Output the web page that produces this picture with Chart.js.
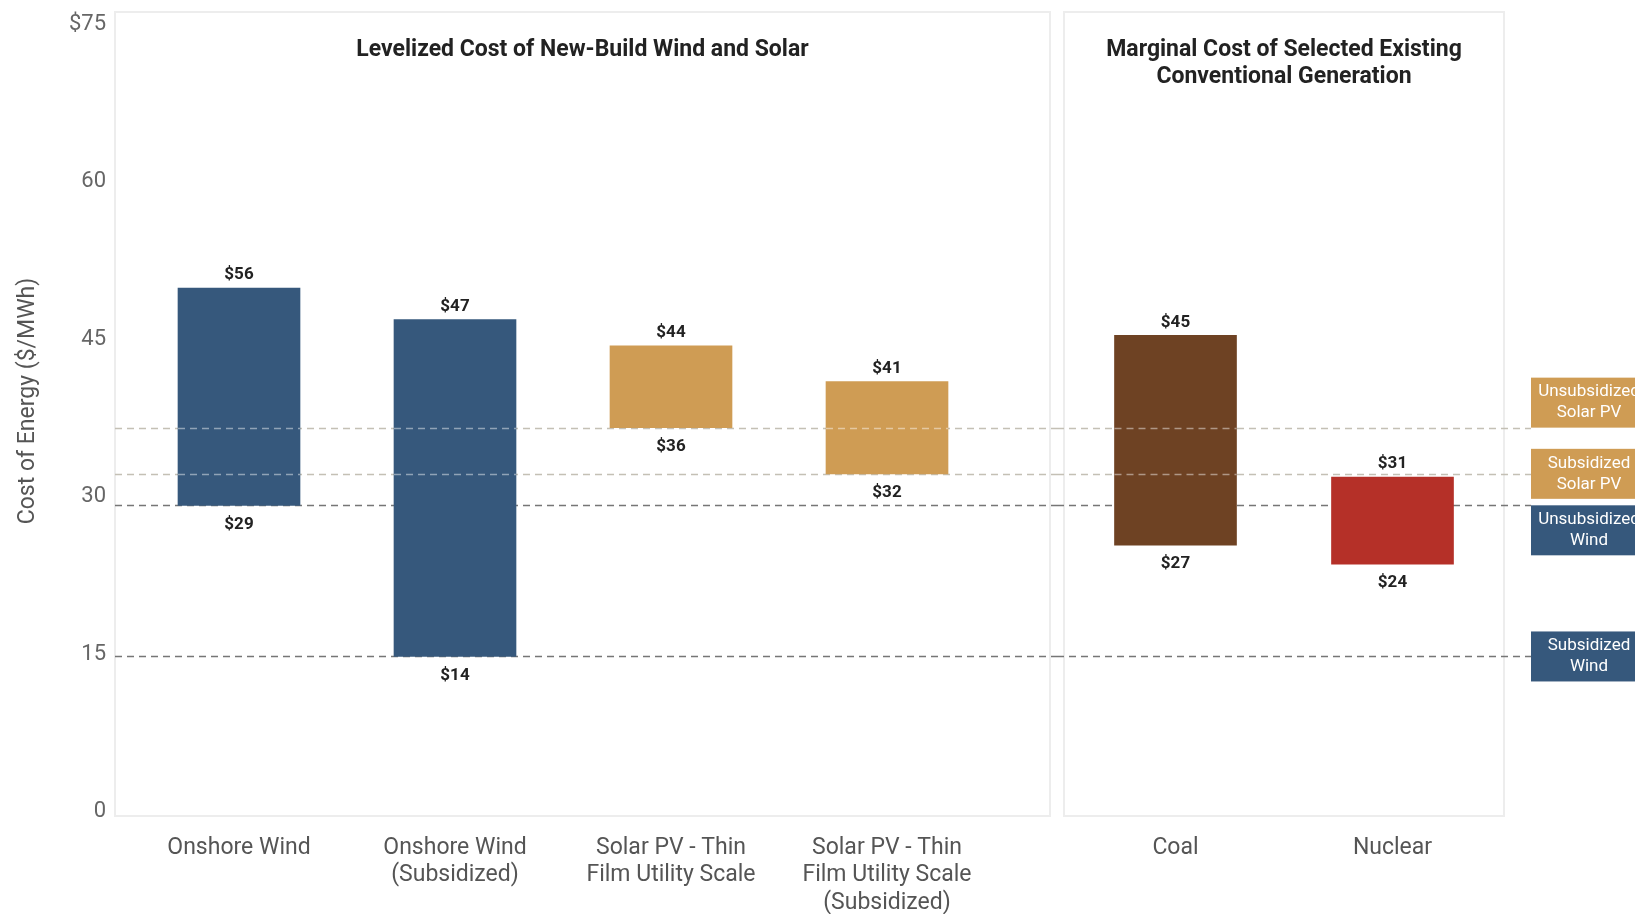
<!DOCTYPE html>
<html>
<head>
<meta charset="utf-8">
<title>Cost of Energy</title>
<script src="https://cdn.jsdelivr.net/npm/chart.js@4.4.1/dist/chart.umd.min.js"></script>
<style>
  body { margin: 0; background: #fff; }
  #wrap { position: relative; width: 1635px; height: 914px; overflow: hidden; }
  #leftChart { position: absolute; left: 0; top: 0; }
  #rightChart { position: absolute; left: 1057px; top: 0; }
</style>
</head>
<body>
<div id="wrap">
  <canvas id="leftChart" width="1057" height="914"></canvas>
  <canvas id="rightChart" width="578" height="914"></canvas>
</div>
<script>
// new-build wind and solar (left panel)
const newBuildCategories = [
  ['Onshore Wind'],
  ['Onshore Wind', '(Subsidized)'],
  ['Solar PV - Thin', 'Film Utility Scale'],
  ['Solar PV - Thin', 'Film Utility Scale', '(Subsidized)']
];
const newBuildLow = [28.9, 14.5, 36.3, 31.9];
const newBuildHigh = [49.6, 46.6, 44.1, 40.7];
const newBuildLowText = ['$29', '$14', '$36', '$32'];
const newBuildHighText = ['$56', '$47', '$44', '$41'];

// existing conventional generation (right panel)
const existingCategories = ['Coal', 'Nuclear'];
const existingLow = [25.1, 23.3];
const existingHigh = [45.1, 31.6];
const existingLowText = ['$27', '$24'];
const existingHighText = ['$45', '$31'];

// reference lines = bottom of the new-build ranges
const refLabels = [['Unsubsidized', 'Solar PV'], ['Subsidized', 'Solar PV'], ['Unsubsidized', 'Wind'], ['Subsidized', 'Wind']];
const refSource = [2, 3, 0, 1];
const refKinds = ['solar', 'solar', 'wind', 'wind'];
const refValues = refSource.map(i => newBuildLow[i]);

const yTicks = [0, 15, 30, 45, 60, 75];
const yTickLabels = ['0', '15', '30', '45', '60', '$75'];
const yTitle = 'Cost of Energy ($/MWh)';
const yMin = -0.7, yMax = 75.9;

const WIND = '#36587c', SOLAR = '#cf9c54', COAL = '#6e4223', NUCLEAR = '#b53028';

Chart.defaults.font.family = 'Roboto, "Open Sans", sans-serif';
Chart.defaults.color = '#555';

const panelPlugin = {
  id: 'panel',
  beforeDatasetsDraw(chart, args, o) {
    const {ctx, chartArea: a} = chart;
    const y = chart.scales.y;
    ctx.save();
    // panel frame
    ctx.strokeStyle = '#ededed';
    ctx.lineWidth = 2;
    const fl = a.left - o.padL, fr = a.right + o.padR;
    ctx.strokeRect(fl, a.top, fr - fl, a.bottom - a.top);
    // panel title
    ctx.fillStyle = '#222';
    ctx.font = 'bold 23px Roboto, sans-serif';
    ctx.textAlign = 'center';
    ctx.textBaseline = 'middle';
    o.title.forEach((t, i) => ctx.fillText(t, (fl + fr) / 2, 50 + i * 27));
    // y axis title
    if (o.yTitle) {
      ctx.save();
      ctx.translate(28, 401);
      ctx.rotate(-Math.PI / 2);
      ctx.fillStyle = '#555';
      ctx.font = '23px Roboto, sans-serif';
      ctx.fillText(o.yTitle, 0, 0);
      ctx.restore();
    }
    // reference lines under the bars
    ctx.setLineDash([7, 5]);
    ctx.lineWidth = 1.5;
    refValues.forEach((v, i) => {
      const py = Math.round(y.getPixelForValue(v)) + 0.5;
      ctx.strokeStyle = refKinds[i] === 'wind' ? '#767676' : '#c4c0b5';
      ctx.beginPath();
      ctx.moveTo(o.lineStart, py);
      ctx.lineTo(o.lineEnd, py);
      ctx.stroke();
    });
    ctx.restore();
  },
  afterDatasetsDraw(chart, args, o) {
    const {ctx} = chart;
    const y = chart.scales.y;
    const ds = chart.data.datasets[0];
    const bars = chart.getDatasetMeta(0).data;
    ctx.save();
    // solar lines show through the bars
    ctx.setLineDash([7, 5]);
    ctx.lineWidth = 1.5;
    ctx.strokeStyle = 'rgba(255,255,255,0.45)';
    refValues.forEach((v, i) => {
      if (refKinds[i] !== 'solar') return;
      const py = Math.round(y.getPixelForValue(v)) + 0.5;
      bars.forEach(b => {
        if (py > b.y + 2 && py < b.base - 2) {
          ctx.beginPath();
          ctx.moveTo(b.x - b.width / 2, py);
          ctx.lineTo(b.x + b.width / 2, py);
          ctx.stroke();
        }
      });
    });
    ctx.setLineDash([]);
    // value labels
    ctx.fillStyle = '#222';
    ctx.font = 'bold 17px Roboto, sans-serif';
    ctx.textAlign = 'center';
    ctx.textBaseline = 'middle';
    bars.forEach((b, i) => {
      ctx.fillText(ds.highText[i], b.x, b.y - 13);
      ctx.fillText(ds.lowText[i], b.x, b.base + 19);
    });
    ctx.restore();
  },
  afterDraw(chart, args, o) {
    if (!o.boxes) return;
    const {ctx} = chart;
    const y = chart.scales.y;
    ctx.save();
    ctx.font = '17px Roboto, sans-serif';
    ctx.textAlign = 'center';
    ctx.textBaseline = 'middle';
    refValues.forEach((v, i) => {
      const py = y.getPixelForValue(v);
      const h = 50;
      const anchor = o.anchors[i];
      const top = anchor === 'bottom' ? py - h : anchor === 'top' ? py : py - h / 2;
      ctx.fillStyle = refKinds[i] === 'wind' ? WIND : SOLAR;
      ctx.fillRect(o.boxLeft, top, o.boxWidth, h);
      ctx.fillStyle = '#fff';
      const cx = o.boxLeft + o.boxWidth / 2;
      refLabels[i].forEach((t, k) => ctx.fillText(t, cx, top + h / 2 + (k - 0.5) * 21));
    });
    ctx.restore();
  }
};

function barDataset(low, high, colors, lowText, highText) {
  return {
    data: low.map((l, i) => [l, high[i]]),
    backgroundColor: colors,
    borderWidth: 0,
    barThickness: 122,
    lowText: lowText,
    highText: highText
  };
}

const xAxis = {
  afterFit: s => { s.height = 98; },
  ticks: {font: {size: 23, lineHeight: 1.18}, color: '#555', padding: 19, maxRotation: 0, autoSkip: false},
  grid: {display: false, drawTicks: false},
  border: {display: false}
};

new Chart(document.getElementById('leftChart'), {
  type: 'bar',
  data: {
    labels: newBuildCategories,
    datasets: [barDataset(newBuildLow, newBuildHigh, [WIND, WIND, SOLAR, SOLAR], newBuildLowText, newBuildHighText)]
  },
  options: {
    responsive: false,
    animation: false,
    layout: {padding: {top: 12, right: 62, left: 0, bottom: 0}},
    plugins: {
      legend: {display: false},
      tooltip: {enabled: false},
      panel: {padL: 16, padR: 55, lineStart: 115, lineEnd: 1057, title: ['Levelized Cost of New-Build Wind and Solar'], yTitle: yTitle, boxes: false}
    },
    scales: {
      x: xAxis,
      y: {
        min: yMin, max: yMax,
        afterFit: s => { s.width = 131; s.paddingTop = 0; s.paddingBottom = 0; },
        afterBuildTicks: s => { s.ticks = yTicks.map(v => ({value: v})); },
        ticks: {callback: (v, i) => yTickLabels[i], font: {size: 22}, color: '#666', padding: 25, labelOffset: 3},
        grid: {display: false, drawTicks: false},
        border: {display: false}
      }
    }
  },
  plugins: [panelPlugin]
});

new Chart(document.getElementById('rightChart'), {
  type: 'bar',
  data: {
    labels: existingCategories,
    datasets: [barDataset(existingLow, existingHigh, [COAL, NUCLEAR], existingLowText, existingHighText)]
  },
  options: {
    responsive: false,
    animation: false,
    layout: {padding: {top: 12, right: 134, left: 10, bottom: 0}},
    plugins: {
      legend: {display: false},
      tooltip: {enabled: false},
      panel: {
        padL: 3, padR: 3, lineStart: 0, lineEnd: 474,
        title: ['Marginal Cost of Selected Existing', 'Conventional Generation'],
        boxes: true, boxLeft: 474, boxWidth: 116,
        anchors: ['bottom', 'center', 'top', 'center']
      }
    },
    scales: {
      x: xAxis,
      y: {display: false, min: yMin, max: yMax}
    }
  },
  plugins: [panelPlugin]
});
</script>
</body>
</html>
